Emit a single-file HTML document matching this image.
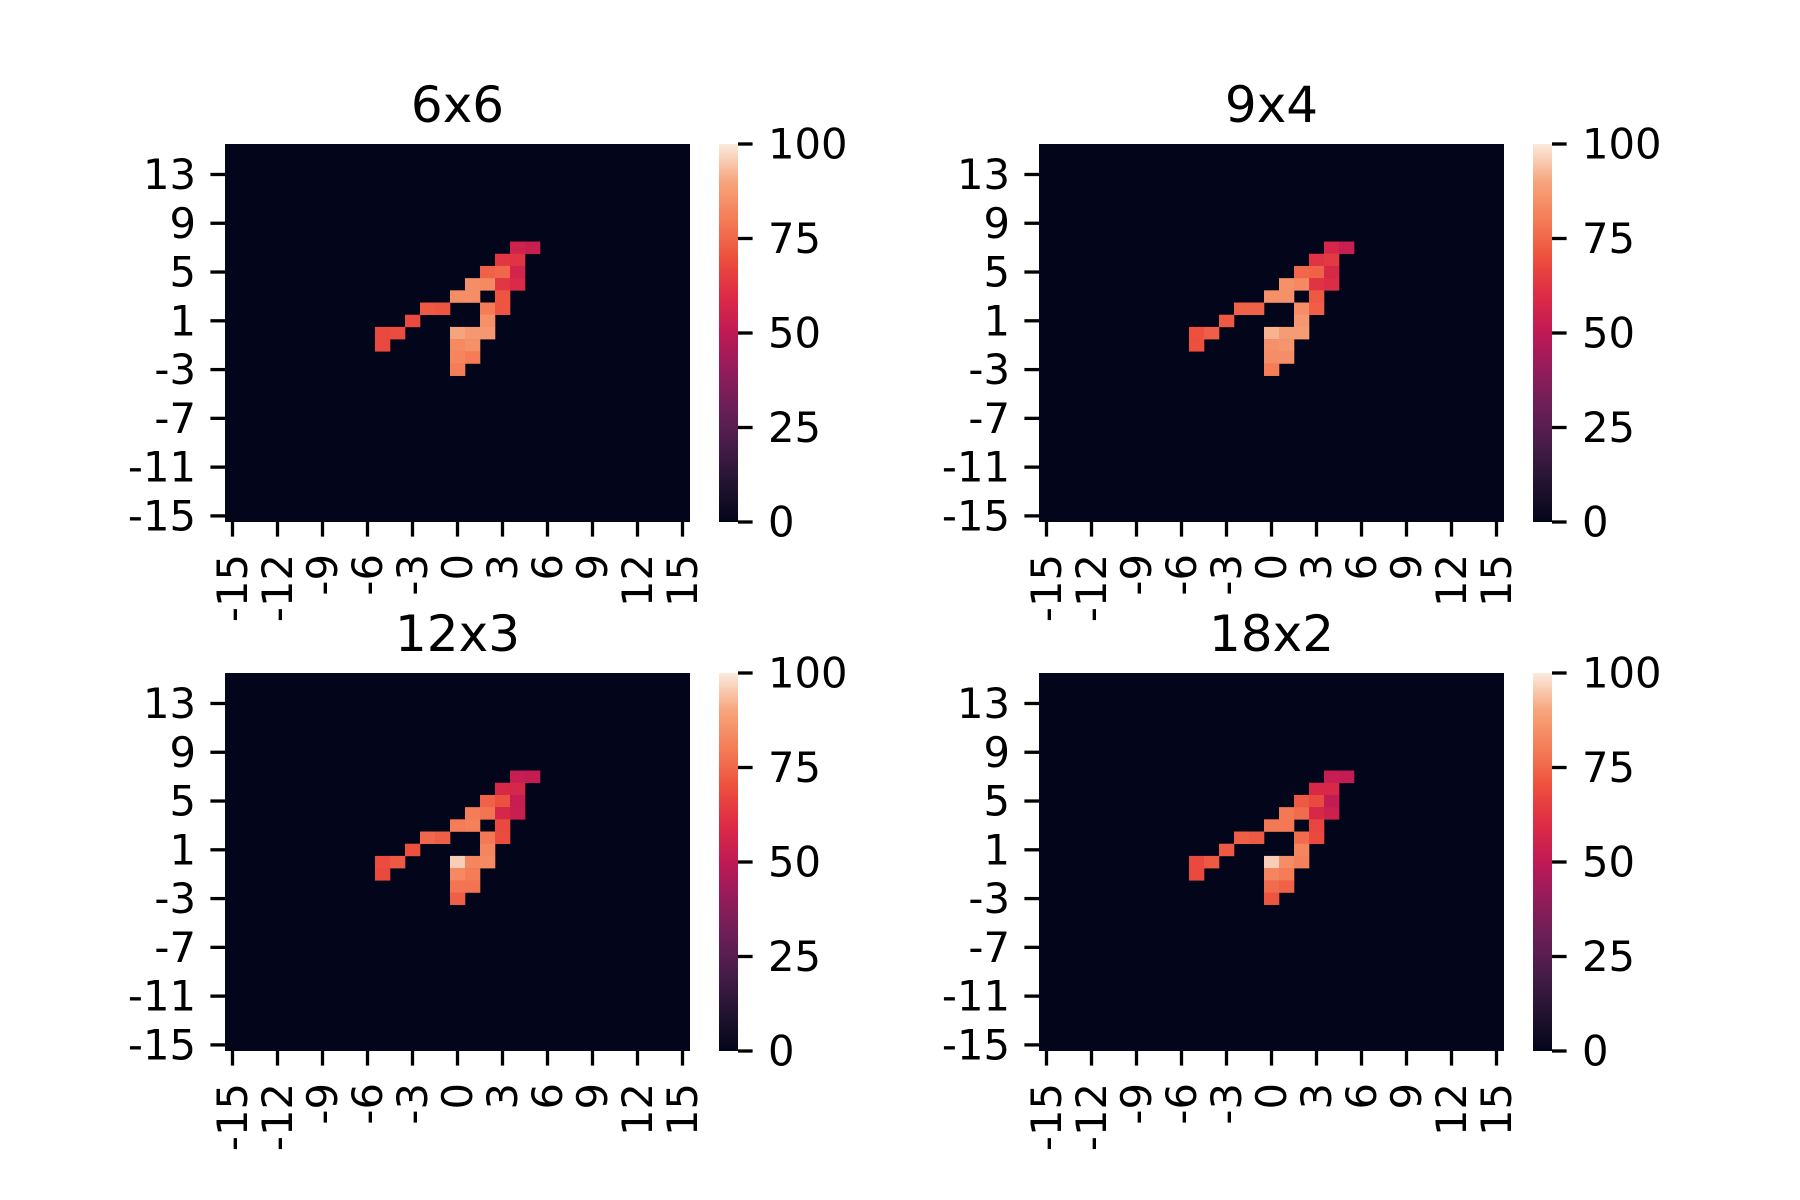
<!DOCTYPE html>
<html><head><meta charset="utf-8"><style>
html,body{margin:0;padding:0;background:#fff}
svg{display:block}
text{font-family:"DejaVu Sans","Liberation Sans",sans-serif;fill:#000}
</style></head>
<body>
<svg id="fig" width="1800" height="1200" viewBox="0 0 1800 1200" xmlns="http://www.w3.org/2000/svg">
<defs>
<linearGradient id="rocket" x1="0" y1="1" x2="0" y2="0">
<stop offset="0" stop-color="#03051a"/><stop offset="0.1" stop-color="#221331"/><stop offset="0.2" stop-color="#451c47"/><stop offset="0.3" stop-color="#691f55"/><stop offset="0.4" stop-color="#921c5b"/><stop offset="0.5" stop-color="#c01a55"/><stop offset="0.6" stop-color="#dd2c45"/><stop offset="0.7" stop-color="#ed503e"/><stop offset="0.8" stop-color="#f47d57"/><stop offset="0.9" stop-color="#f6a47c"/><stop offset="1" stop-color="#faebdd"/>
</linearGradient>
</defs>
</svg>
<script>
const cellX = [4,5,3,4,2,3,4,1,2,3,4,0,1,3,-2,-1,2,3,-3,2,-5,-4,0,1,2,-5,0,1,0,1,0];
const cellY = [7,7,6,6,5,5,5,4,4,4,4,3,3,3,2,2,2,2,1,1,0,0,0,0,0,-1,-1,-1,-2,-2,-3];
const values6x6 = [55,53,63,62,74,75,56,84,83,63,59,84,84,71,72,71,80,71,68,85,68,69,90,87,87,68,83,85,82,80,80];
const values9x4 = [57,53,62,64,75,74,58,85,83,62,60,85,85,72,74,74,84,73,72,87,70,73,92,88,88,70,85,86,84,84,80];
const values12x3 = [52,51,58,57,74,70,52,80,78,57,53,80,81,68,75,73,79,69,70,82,69,72,96,82,83,68,83,80,78,78,73];
const values18x2 = [52,51,58,58,72,68,51,79,76,58,54,79,79,67,73,72,76,68,72,82,68,72,96,84,81,68,82,80,76,74,71];
const titles = ["6x6","9x4","12x3","18x2"];
const xTicks = [-15,-12,-9,-6,-3,0,3,6,9,12,15];
const yTicks = [13,9,5,1,-3,-7,-11,-15];
const cbTicks = [0,25,50,75,100];

const NS="http://www.w3.org/2000/svg";
const svg=document.getElementById('fig');
const stops=[[0,[3,5,26]],[0.1,[34,19,49]],[0.2,[69,28,71]],[0.3,[105,31,85]],[0.4,[146,28,91]],[0.5,[192,26,85]],[0.6,[221,44,69]],[0.7,[237,80,62]],[0.8,[244,125,87]],[0.9,[246,164,124]],[1,[250,235,221]]];
function cmap(v){let t=Math.max(0,Math.min(1,v/100));for(let i=1;i<stops.length;i++){if(t<=stops[i][0]){const a=stops[i-1],b=stops[i];const f=(t-a[0])/(b[0]-a[0]);const c=a[1].map((x,k)=>Math.round(x+(b[1][k]-x)*f));return `rgb(${c[0]},${c[1]},${c[2]})`;}}return 'rgb(250,235,221)';}
function mk(tag,attrs,parent){const e=document.createElementNS(NS,tag);for(const k in attrs)e.setAttribute(k,attrs[k]);(parent||svg).appendChild(e);return e;}
const panels=[{L:225,T:144,vals:values6x6},{L:1039,T:144,vals:values9x4},{L:225,T:673,vals:values12x3},{L:1039,T:673,vals:values18x2}];
const W=465,H=378,N=31,cw=W/N,ch=H/N,FS=41.7;
panels.forEach((p,pi)=>{
  const g=mk('g',{});
  
  
  const xs=v=>p.L+(v+15)*cw, ys=v=>p.T+(15-v)*ch;
  const bg=mk('rect',{x:p.L,y:p.T,width:W,height:H,fill:cmap(0)},g);
  
  
  for(let i=0;i<cellX.length;i++){
    const r=mk('rect',{x:xs(cellX[i]),y:ys(cellY[i]),width:cw+0.3,height:ch+0.3,fill:cmap(p.vals[i])},g);
    
    
  }
  const t=mk('text',{x:p.L+W/2,y:p.T-22,'font-size':50,'text-anchor':'middle'},g);
  t.textContent=titles[pi];
  
  
  yTicks.forEach(v=>{const y=ys(v)+ch/2;
    mk('line',{x1:p.L-14.6,x2:p.L,y1:y,y2:y,stroke:'#000','stroke-width':3.3},g);
    const l=mk('text',{x:p.L-29,y:y,'font-size':FS,'text-anchor':'end','dominant-baseline':'central'},g);
    l.textContent=String(v);
    
    
  });
  xTicks.forEach(v=>{const x=xs(v)+cw/2,b=p.T+H;
    mk('line',{x1:x,x2:x,y1:b,y2:b+14.6,stroke:'#000','stroke-width':3.3},g);
    const l=mk('text',{x:0,y:0,'font-size':FS,'text-anchor':'end','dominant-baseline':'central',transform:`translate(${x},${b+32}) rotate(-90)`},g);
    l.textContent=String(v);
    
    
  });
  const cx=p.L+W+29,cwid=19;
  const cb=mk('rect',{x:cx,y:p.T,width:cwid,height:H,fill:'url(#rocket)'},g);
  
  
  cbTicks.forEach(v=>{const y=p.T+H-v/100*H;
    mk('line',{x1:cx+cwid,x2:cx+cwid+14.6,y1:y,y2:y,stroke:'#000','stroke-width':3.3},g);
    const l=mk('text',{x:cx+cwid+30,y:y,'font-size':FS,'dominant-baseline':'central'},g);
    l.textContent=String(v);
    
    
  });
});
</script>
</body></html>
